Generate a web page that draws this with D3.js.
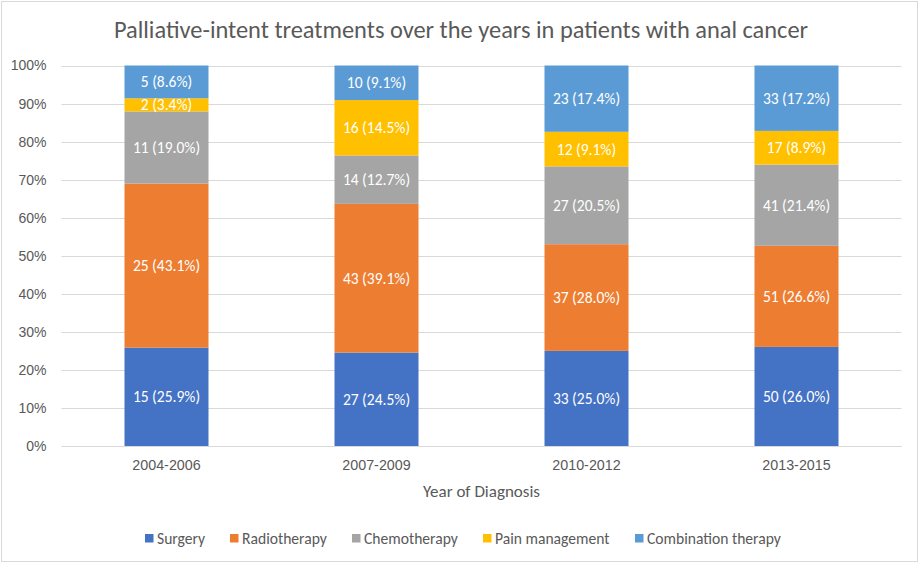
<!DOCTYPE html>
<html>
<head>
<meta charset="utf-8">
<script src="https://cdn.jsdelivr.net/npm/d3@7"></script>
<style>
  body { margin: 0; background: #fff; }
  svg { display: block; font-family: Carlito, Calibri, Lato, sans-serif; }
</style>
</head>
<body>
<svg id="chart" width="922" height="564"></svg>
<script>
const categories = ["2004-2006", "2007-2009", "2010-2012", "2013-2015"];
const seriesNames = ["Surgery", "Radiotherapy", "Chemotherapy", "Pain management", "Combination therapy"];
const surgery = [15, 27, 33, 50];
const radiotherapy = [25, 43, 37, 51];
const chemotherapy = [11, 14, 27, 41];
const painManagement = [2, 16, 12, 17];
const combinationTherapy = [5, 10, 23, 33];
const yTicks = [0, 0.1, 0.2, 0.3, 0.4, 0.5, 0.6, 0.7, 0.8, 0.9, 1.0];
const colors = ["#4472C4", "#ED7D31", "#A5A5A5", "#FFC000", "#5B9BD5"];

const seriesValues = [surgery, radiotherapy, chemotherapy, painManagement, combinationTherapy];
const table = categories.map((c, i) => {
  const row = { category: c };
  seriesNames.forEach((s, j) => row[s] = seriesValues[j][i]);
  return row;
});
const totals = categories.map((c, i) => d3.sum(seriesValues, v => v[i]));

const svg = d3.select("#chart");
const W = 922, H = 564;

// outer border
svg.append("rect").attr("x", 1.5).attr("y", 1.5).attr("width", W - 6).attr("height", H - 4)
  .attr("fill", "#fff").attr("stroke", "#D9D9D9").attr("stroke-width", 1);

const x = d3.scaleBand().domain(categories).range([61.5, 901.5]).paddingInner(0.6).paddingOuter(0.3);
const y = d3.scaleLinear().domain([0, 1]).range([446, 65.5]);

const stack = d3.stack().keys(seriesNames).offset(d3.stackOffsetExpand);
const stacked = stack(table);

// gridlines
svg.append("g").selectAll("line").data(yTicks).join("line")
  .attr("x1", 61.5).attr("x2", 901.5)
  .attr("y1", d => Math.round(y(d)) + 0.5).attr("y2", d => Math.round(y(d)) + 0.5)
  .attr("stroke", "#D9D9D9").attr("stroke-width", 1);

// y axis labels
const yAxis = d3.axisLeft(y).tickValues(yTicks).tickFormat(d3.format(".0%")).tickSize(0).tickPadding(15);
const gy = svg.append("g").attr("transform", "translate(61.5,0)").call(yAxis);
gy.select(".domain").remove();
gy.selectAll("text").attr("fill", "#595959").style("font-size", "14px").style("font-family", null);

// bars
const layers = svg.append("g").selectAll("g").data(stacked).join("g")
  .attr("fill", (d, i) => colors[i]);
layers.selectAll("rect").data(d => d).join("rect")
  .attr("x", d => x(d.data.category))
  .attr("width", x.bandwidth())
  .attr("y", d => y(d[1]))
  .attr("height", d => y(d[0]) - y(d[1]));

// labels
stacked.forEach((layer, j) => {
  svg.append("g").selectAll("text").data(layer).join("text")
    .attr("x", d => x(d.data.category) + x.bandwidth() / 2)
    .attr("y", d => (y(d[0]) + y(d[1])) / 2)
    .attr("dy", "0.36em")
    .attr("text-anchor", "middle")
    .attr("fill", "#fff")
    .style("font-size", "15.5px")
    .text((d, i) => {
      const v = d.data[layer.key];
      return v + " (" + (v / totals[i] * 100).toFixed(1) + "%)";
    });
});

// x axis baseline
svg.append("line").attr("x1", 61.5).attr("x2", 901.5).attr("y1", 446.5).attr("y2", 446.5)
  .attr("stroke", "#D9D9D9");

const xAxis = d3.axisBottom(x).tickSize(0).tickPadding(14);
const gx = svg.append("g").attr("transform", "translate(0,446)").call(xAxis);
gx.select(".domain").remove();
gx.selectAll("text").attr("fill", "#595959").style("font-size", "14.3px").style("font-family", null);

// axis title
svg.append("text").attr("x", 481.5).attr("y", 497).attr("text-anchor", "middle")
  .attr("fill", "#595959").style("font-size", "17px").text("Year of Diagnosis");

// title
svg.append("text").attr("x", 461).attr("y", 38).attr("text-anchor", "middle")
  .attr("fill", "#595959").style("font-size", "24.4px")
  .text("Palliative-intent treatments over the years in patients with anal cancer");

// legend
const legendX = [145, 230, 352, 483, 635];
const lg = svg.append("g").selectAll("g").data(seriesNames).join("g")
  .attr("transform", (d, i) => `translate(${legendX[i]},534)`);
lg.append("rect").attr("width", 8.5).attr("height", 8.5).attr("fill", (d, i) => colors[i]);
lg.append("text").attr("x", 12).attr("y", 9.5).attr("fill", "#595959").style("font-size", "15.6px").text(d => d);
</script>
</body>
</html>
